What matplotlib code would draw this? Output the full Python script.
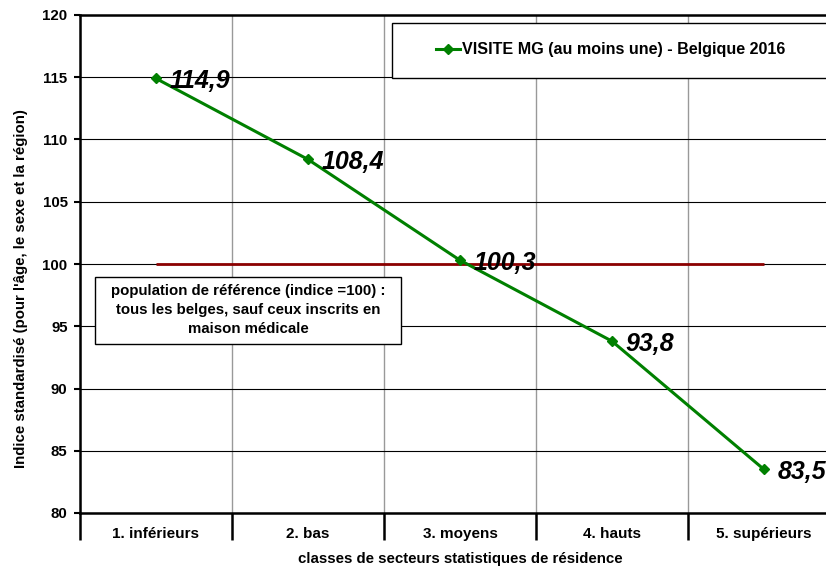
import matplotlib
matplotlib.use("Agg")
import matplotlib.pyplot as plt
from matplotlib.patches import Rectangle

plt.rcParams['font.family'] = ['Liberation Sans', 'DejaVu Sans']
plt.rcParams['font.weight'] = 'bold'

categories = ['1. inférieurs', '2. bas', '3. moyens', '4. hauts', '5. supérieurs']
values = [114.9, 108.4, 100.3, 93.8, 83.5]
value_labels = ['114,9', '108,4', '100,3', '93,8', '83,5']
reference = 100
series_name = 'VISITE MG (au moins une) - Belgique 2016'
note = "population de référence (indice =100) :\ntous les belges, sauf ceux inscrits en\nmaison médicale"
yticks = [80, 85, 90, 95, 100, 105, 110, 115, 120]

fig = plt.figure(figsize=(8.26, 5.67), dpi=100)
# axes runs a bit past the right edge, like the original
ax = fig.add_axes([80/826, 54/567, 760/826, 498/567])

x = list(range(len(categories)))
ax.hlines(reference, x[0], x[-1], color='#8B0000', lw=2, zorder=3)
line, = ax.plot(x, values, color='#008000', lw=2.2, marker='D', ms=5, zorder=4, label=series_name)

for xi, v, lab in zip(x, values, value_labels):
    ax.annotate(lab, (xi, v), xytext=(10, 0), textcoords='offset points',
                ha='left', va='center_baseline', fontsize=18, fontstyle='italic',
                fontweight='bold', zorder=5)

ax.set_xlim(-0.5, len(categories) - 0.5)
ax.set_ylim(80, 120)
ax.set_yticks(yticks)
ax.set_yticklabels([str(t) for t in yticks], fontsize=10.8, fontweight='bold')
ax.tick_params(axis='y', length=4, width=1.5, pad=5)

# category cells: separators as long ticks, names as minor ticks in the middle
ax.set_xticks([i - 0.5 for i in range(len(categories) + 1)])
ax.set_xticklabels([])
ax.set_xticks(x, minor=True)
ax.set_xticklabels(categories, minor=True, fontsize=11, fontweight='bold')
ax.tick_params(axis='x', which='major', length=19.5, width=1.8, direction='out')
ax.tick_params(axis='x', which='minor', length=0, pad=10)

ax.grid(axis='y', color='black', lw=0.8)
ax.grid(axis='x', which='major', color='#999999', lw=1)
ax.set_axisbelow(True)
for s in ['left', 'top', 'bottom']:
    ax.spines[s].set_linewidth(1.8)

ax.set_xlabel('classes de secteurs statistiques de résidence', fontsize=10.8, fontweight='bold')
ax.xaxis.set_label_coords(0.5, -0.078)
ax.set_ylabel("Indice standardisé (pour l'âge, le sexe et la région)", fontsize=10.8, fontweight='bold')
ax.yaxis.set_label_coords(-0.078, 0.45)
ax.yaxis.label.set_va('center')

# legend box
ax.add_patch(Rectangle((0.4105, 0.8735), 0.65, 0.1105, transform=ax.transAxes,
                       facecolor='white', edgecolor='black', lw=1, clip_on=False, zorder=6))
leg = ax.legend(handles=[line], loc='center left', bbox_to_anchor=(0.468, 0.93),
                frameon=False, fontsize=11.6, handlelength=1.5, handletextpad=0.12,
                borderpad=0, borderaxespad=0)
leg.set_zorder(7)

# note box
ax.add_patch(Rectangle((0.0197, 0.3394), 0.4027, 0.1345, transform=ax.transAxes,
                       facecolor='white', edgecolor='black', lw=1, zorder=6))
ax.text(0.221, 0.4076, note, transform=ax.transAxes, ha='center', va='center',
        fontsize=10.8, fontweight='bold', linespacing=1.42, zorder=7)

fig.savefig('out.png', dpi=100)
